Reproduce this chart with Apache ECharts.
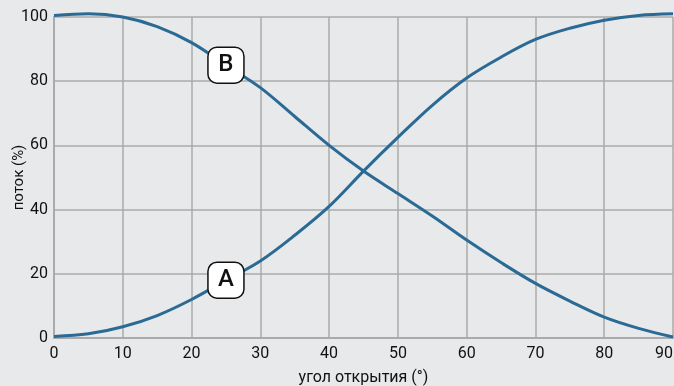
<!DOCTYPE html>
<html><head><meta charset="utf-8">
<script src="https://cdn.jsdelivr.net/npm/echarts@6/dist/echarts.min.js"></script>
<style>html,body{margin:0;padding:0;background:#e8e9eb}#c{width:674px;height:386px}</style>
</head><body><div id="c"></div>
<script>
const angles = [0,5,10,15,20,25,30,35,40,45,50,55,60,65,70,75,80,85,90];
const flowA = [0.5,1.3,3.5,7,12,18,24,32,41,52,62.5,72.5,81,87.5,93,96.5,99,100.5,101];
const flowB = [100.5,101,100,97,92,85,78,69,60,52,45,38,30.5,23.5,17,11.5,6.5,3,0.3];
const xTicks = [0,10,20,30,40,50,60,70,80,90];
const yTicks = [0,20,40,60,80,100];
const labelAngle = 25;
const xName = 'угол открытия (°)';
const yName = 'поток (%)';

const lineColor = '#2a6a94';
function series(name, vals){
  const i = angles.indexOf(labelAngle);
  return {
    type:'line', name, smooth:0.35, showSymbol:false, clip:false,
    data: angles.map((a,k)=>[a, vals[k]]),
    lineStyle:{color:lineColor, width:3},
    z:2,
    markPoint:{
      symbol:'roundRect', symbolSize:[36,36], silent:true,
      itemStyle:{color:'#fff', borderColor:'#111', borderWidth:1.5},
      label:{show:true, formatter:name, color:'#111', fontSize:24, fontWeight:500, fontFamily:'Roboto', position:'inside'},
      data:[{coord:[labelAngle, vals[i]]}]
    }
  };
}
const chart = echarts.init(document.getElementById('c'), null, {renderer:'canvas'});
chart.setOption({
  backgroundColor:'#e8e9eb',
  animation:false,
  grid:{left:54, right:1, top:17, bottom:48, outerBoundsMode:'none', containLabel:false},
  xAxis:{type:'value', min:0, max:90, interval:10,
    name:xName, nameLocation:'middle', nameGap:32, nameMoveOverlap:false,
    nameTextStyle:{fontSize:16, color:'#111', fontFamily:'Roboto'},
    axisLine:{show:true, lineStyle:{color:'#aaa', width:2}},
    axisTick:{show:false},
    axisLabel:{fontSize:16, color:'#111', fontFamily:'Roboto', margin:8, showMaxLabel:true, alignMaxLabel:'right'},
    splitLine:{show:true, lineStyle:{color:'#aaa', width:1.5}}},
  yAxis:{type:'value', min:0, max:100, interval:20,
    name:yName, nameLocation:'middle', nameGap:27, nameMoveOverlap:false,
    nameTextStyle:{fontSize:15, color:'#111', fontFamily:'Roboto'},
    axisLine:{show:true, lineStyle:{color:'#aaa', width:2}},
    axisTick:{show:false},
    axisLabel:{fontSize:16, color:'#111', fontFamily:'Roboto', margin:6},
    splitLine:{show:true, lineStyle:{color:'#aaa', width:1.5}}},
  series:[series('A', flowA), series('B', flowB)]
});
</script></body></html>
